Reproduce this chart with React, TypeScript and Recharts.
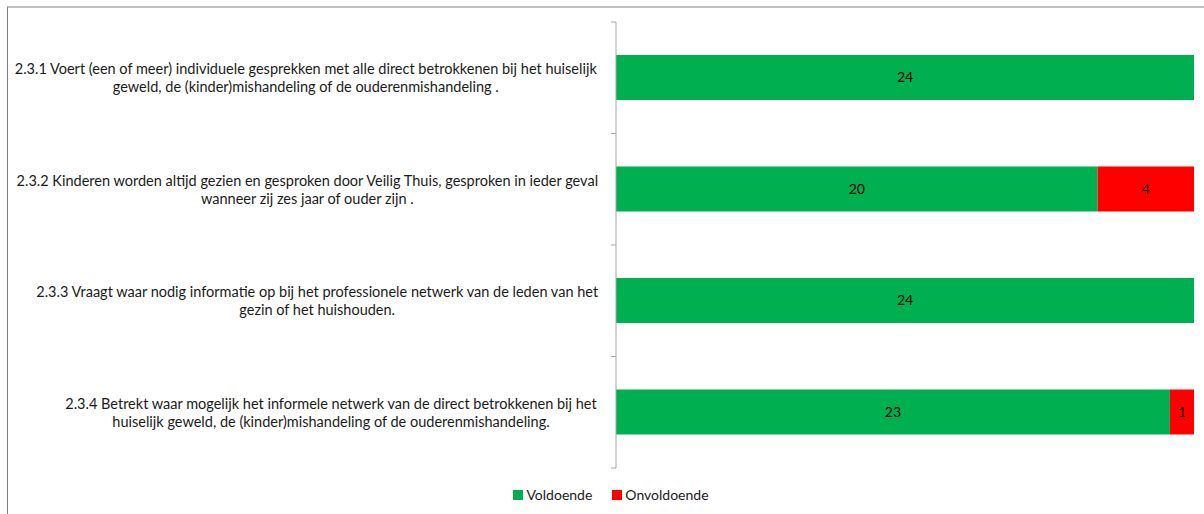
import React from "react";
import { BarChart, Bar, XAxis, YAxis, LabelList, Legend } from "recharts";

const categories = [
  [
    "2.3.1 Voert (een of meer) individuele gesprekken met alle direct betrokkenen  bij het huiselijk",
    "geweld, de (kinder)mishandeling of de ouderenmishandeling .",
  ],
  [
    "2.3.2 Kinderen worden altijd gezien en gesproken door Veilig Thuis, gesproken in ieder geval",
    "wanneer zij zes jaar of ouder  zijn .",
  ],
  [
    "2.3.3 Vraagt waar nodig informatie op bij het professionele netwerk van de leden van het",
    "gezin of het huishouden.",
  ],
  [
    "2.3.4 Betrekt waar mogelijk het informele netwerk van de direct betrokkenen  bij het",
    "huiselijk geweld, de (kinder)mishandeling of de ouderenmishandeling.",
  ],
];
const voldoende = [24, 20, 24, 23];
const onvoldoende = [0, 4, 0, 1];

const GREEN = "#00B050";
const RED = "#FF0000";
const AXIS = "#A6A6A6";
const FONT = "Lato, 'Open Sans', sans-serif";
const FONT_SIZE = 14.5;

const data = categories.map((lines, i) => ({
  name: String(i),
  lines,
  voldoende: voldoende[i],
  onvoldoende: onvoldoende[i],
}));

let ctx: CanvasRenderingContext2D | null = null;
function textWidth(s: string) {
  if (!ctx) ctx = document.createElement("canvas").getContext("2d");
  if (!ctx) return s.length * 7;
  ctx.font = `${FONT_SIZE}px Lato`;
  return ctx.measureText(s).width;
}

function CategoryTick(props: any) {
  const { x, y, payload, index } = props;
  const lines: string[] = categories[Number(payload.value)] || [];
  const half = payload.offset || 55.75;
  const blockW = Math.max(...lines.map(textWidth));
  const cx = x - 17 - blockW / 2;
  const lh = 18;
  const y0 = y - ((lines.length - 1) * lh) / 2;
  return (
    <g>
      <line x1={x - 5} x2={x} y1={y - half} y2={y - half} stroke={AXIS} />
      {index === categories.length - 1 && (
        <line x1={x - 5} x2={x} y1={y + half} y2={y + half} stroke={AXIS} />
      )}
      {lines.map((l, i) => (
        <text
          key={i}
          x={cx}
          y={y0 + i * lh}
          textAnchor="middle"
          dominantBaseline="central"
          fontSize={FONT_SIZE}
          fontFamily={FONT}
          fill="#1a1a1a"
        >
          {l}
        </text>
      ))}
    </g>
  );
}

const hideZero = (v: any) => (v ? v : "");

function LegendContent() {
  const items = [
    { label: "Voldoende", color: GREEN },
    { label: "Onvoldoende", color: RED },
  ];
  return (
    <div
      style={{
        display: "flex",
        justifyContent: "center",
        gap: 20,
        fontFamily: FONT,
        fontSize: 14,
        color: "#1a1a1a",
        lineHeight: "16px",
      }}
    >
      {items.map((it) => (
        <span key={it.label} style={{ display: "flex", alignItems: "center" }}>
          <span
            style={{
              width: 10,
              height: 10,
              background: it.color,
              marginRight: 3,
              display: "inline-block",
            }}
          />
          {it.label}
        </span>
      ))}
    </div>
  );
}

export default function App() {
  return (
    <div
      style={{
        position: "absolute",
        left: 0,
        top: 0,
        width: 1204,
        height: 514,
        background: "#fff",
      }}
    >
      <div
        style={{
          position: "absolute",
          left: 7,
          top: 6,
          right: 0,
          bottom: 0,
          borderTop: "2px solid #C0C0C0",
          borderLeft: "1px solid #808080",
        }}
      />
      <BarChart
        width={1204}
        height={514}
        data={data}
        layout="vertical"
        margin={{ top: 22, right: 10, bottom: 30, left: 0 }}
        style={{ position: "absolute", left: 0, top: 0 }}
      >
        <XAxis type="number" domain={[0, 24]} hide />
        <YAxis
          type="category"
          dataKey="name"
          width={616}
          axisLine={{ stroke: AXIS }}
          tickLine={false}
          tickSize={0}
          tickMargin={0}
          tick={<CategoryTick />}
          interval={0}
        />
        <Legend
          verticalAlign="bottom"
          content={<LegendContent />}
          wrapperStyle={{ left: 0, width: 1222, bottom: 11 }}
        />
        <Bar
          dataKey="voldoende"
          stackId="a"
          fill={GREEN}
          barSize={45}
          isAnimationActive={false}
        >
          <LabelList
            dataKey="voldoende"
            position="center"
            formatter={hideZero}
            fill="#000"
            fontSize={14}
            fontFamily={FONT}
          />
        </Bar>
        <Bar
          dataKey="onvoldoende"
          stackId="a"
          fill={RED}
          barSize={45}
          isAnimationActive={false}
        >
          <LabelList
            dataKey="onvoldoende"
            position="center"
            formatter={hideZero}
            fill="#000"
            fontSize={14}
            fontFamily={FONT}
          />
        </Bar>
      </BarChart>
    </div>
  );
}
